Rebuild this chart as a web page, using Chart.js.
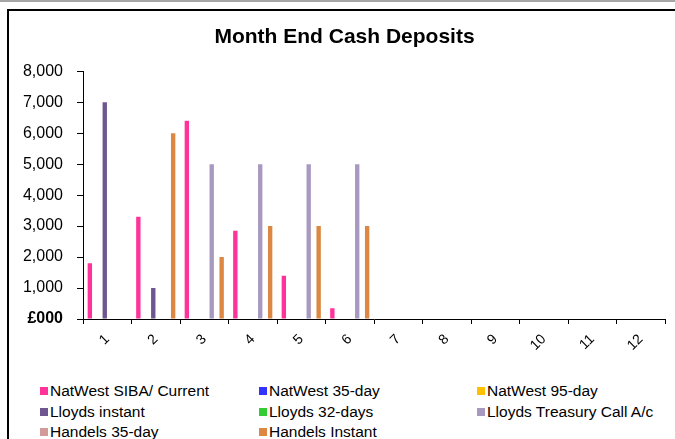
<!DOCTYPE html>
<html>
<head>
<meta charset="utf-8">
<script src="https://cdn.jsdelivr.net/npm/chart.js@4.4.1/dist/chart.umd.min.js"></script>
<style>
  body { margin: 0; background: #fff; font-family: "Liberation Sans", Arial, sans-serif; }
  #page { position: relative; width: 675px; height: 439px; overflow: hidden; }
  #topline { position: absolute; left: 0; top: 0; width: 675px; height: 2px; background: #a6a6a6; }
  #frame { position: absolute; left: 7px; top: 9px; width: 720px; height: 500px;
           border-top: 2px solid #000; border-left: 2px solid #000; }
  #wrap { position: absolute; left: 0; top: 0; width: 675px; height: 370px; }
  #legend { position: absolute; left: 40px; top: 381px; display: grid;
            grid-template-columns: 219px 218px 200px; }
  .item { display: flex; align-items: center; height: 20.5px; font-size: 15.5px; color: #000; white-space: nowrap; }
  .sw { width: 8px; height: 8px; margin-right: 2px; flex: none; }
</style>
</head>
<body>
<div id="page">
  <div id="topline"></div>
  <div id="frame"></div>
  <div id="wrap"><canvas id="myChart" width="675" height="370"></canvas></div>
  <div id="legend"></div>
</div>
<script>
const months = ["1", "2", "3", "4", "5", "6", "7", "8", "9", "10", "11", "12"];

const seriesNames = [
  "NatWest SIBA/ Current",
  "NatWest 35-day",
  "NatWest 95-day",
  "Lloyds instant",
  "Lloyds 32-days",
  "Lloyds Treasury Call A/c",
  "Handels 35-day",
  "Handels Instant",
];
const seriesColors = ["#ff3399", "#3333ff", "#ffc000", "#6e5790", "#33cc33", "#a899c1", "#d29a98", "#dc8842"];

const natwestSiba     = [1800, 3300, 6400, 2850, 1400, 350, 0, 0, 0, 0, 0, 0];
const natwest35       = [0, 0, 0, 0, 0, 0, 0, 0, 0, 0, 0, 0];
const natwest95       = [0, 0, 0, 0, 0, 0, 0, 0, 0, 0, 0, 0];
const lloydsInstant   = [7000, 1000, 0, 0, 0, 0, 0, 0, 0, 0, 0, 0];
const lloyds32        = [0, 0, 0, 0, 0, 0, 0, 0, 0, 0, 0, 0];
const lloydsTreasury  = [0, 0, 5000, 5000, 5000, 5000, 0, 0, 0, 0, 0, 0];
const handels35       = [0, 0, 0, 0, 0, 0, 0, 0, 0, 0, 0, 0];
const handelsInstant  = [0, 6000, 2000, 3000, 3000, 3000, 0, 0, 0, 0, 0, 0];

const seriesValues = [natwestSiba, natwest35, natwest95, lloydsInstant, lloyds32, lloydsTreasury, handels35, handelsInstant];

const yTicks = [0, 1000, 2000, 3000, 4000, 5000, 6000, 7000, 8000];

const datasets = seriesNames.map((name, i) => ({
  label: name,
  data: seriesValues[i],
  backgroundColor: seriesColors[i],
  borderWidth: 0,
  barPercentage: 0.88,
  categoryPercentage: 0.82,
}));

// the title in the original sits a bit right of the canvas centre
const shiftTitle = {
  id: "shiftTitle",
  afterLayout(chart) {
    const t = chart.titleBlock;
    if (t) { t.left += 12; t.right += 12; }
  },
};

const ctx = document.getElementById("myChart").getContext("2d");
new Chart(ctx, {
  type: "bar",
  data: { labels: months, datasets: datasets },
  plugins: [shiftTitle],
  options: {
    responsive: false,
    animation: false,
    devicePixelRatio: 1,
    layout: { padding: { left: 0, right: 10, top: 0, bottom: 0 } },
    plugins: {
      legend: { display: false },
      tooltip: { enabled: false },
      title: {
        display: true,
        text: "Month End Cash Deposits",
        color: "#000",
        font: { family: "Liberation Sans", size: 21, weight: "bold" },
        padding: { top: 25, bottom: 21 },
      },
    },
    scales: {
      x: {
        afterFit: (s) => { s.height = 51; },
        grid: { drawOnChartArea: false, drawTicks: true, tickLength: 5, color: "#000", offset: true },
        border: { color: "#000", width: 1 },
        ticks: {
          color: "#000",
          font: { family: "Liberation Sans", size: 14 },
          minRotation: 45,
          maxRotation: 45,
          padding: 7,
        },
      },
      y: {
        min: 0,
        max: 8000,
        afterFit: (s) => { s.width = 83; },
        afterBuildTicks: (s) => { s.ticks = yTicks.map((v) => ({ value: v })); },
        grid: { drawOnChartArea: false, drawTicks: true, tickLength: 6, color: "#000" },
        border: { color: "#000", width: 1 },
        ticks: {
          color: "#000",
          padding: 14,
          font: (c) => ({ family: "Liberation Sans", size: 16, weight: c.tick && c.tick.value === 0 ? "bold" : "normal" }),
          callback: (v) => (v === 0 ? "£000" : v.toLocaleString("en-GB")),
        },
      },
    },
  },
});

const legend = document.getElementById("legend");
seriesNames.forEach((name, i) => {
  const item = document.createElement("div");
  item.className = "item";
  item.innerHTML = '<span class="sw" style="background:' + seriesColors[i] + '"></span>' + name;
  legend.appendChild(item);
});
</script>
</body>
</html>
